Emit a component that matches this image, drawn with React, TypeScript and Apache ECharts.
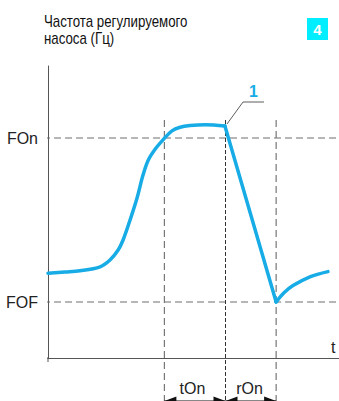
import React, { useEffect, useRef } from "react";
import * as echarts from "echarts";

// time (arbitrary units 0..100), frequency (arbitrary units 0..73)
const riseCurve: [number, number][] = [
  [0, 21.2], [5.8, 21.5], [11, 21.8], [17.9, 22.8], [21.3, 24.5], [24.1, 27], [25.8, 29.5],
  [28.2, 34.5], [30.6, 40], [32.6, 45.6], [34.4, 49.4], [36.8, 52.2], [39.6, 54.6],
  [42.6, 56.8], [45.4, 57.7], [48.8, 58.1], [54, 58.3], [60.8, 58],
];
const dropLine: [number, number][] = [[60.8, 58], [78.4, 14]];
const recoveryCurve: [number, number][] = [
  [78.4, 14], [81.1, 16.3], [84.2, 18.1], [90, 20.3], [96.2, 21.6],
];
const FON = 55;
const FOF = 14;
const T_START = 40;
const T_PEAK = 61;
const T_END = 78.4;
const yLabels: Record<number, string> = { 14: "FOF", 55: "FOn" };

const BLUE = "#17ace6";
const FONT = "'Liberation Sans', Arial, sans-serif";

export default function App() {
  const ref = useRef<HTMLDivElement>(null);
  useEffect(() => {
    if (!ref.current) return;
    const chart = echarts.init(ref.current, null, { renderer: "svg" });
    const dashed = (data: [number, number][], color: string, type: any, width = 1.2) => ({
      type: "line",
      data,
      symbol: "none",
      clip: false,
      silent: true,
      z: 1,
      lineStyle: { color, width, type },
    });
    const arrowL = "path://M0,5 L12,0 L12,10 Z";
    const arrowR = "path://M12,5 L0,0 L0,10 Z";
    const arrowY = -10.75;
    const arrowSeries = (a: number, b: number) => ({
      type: "line",
      clip: false,
      silent: true,
      lineStyle: { color: "#111", width: 1.2 },
      itemStyle: { color: "#111" },
      symbolSize: [12, 9],
      data: [
        { value: [a, arrowY], symbol: arrowL, symbolOffset: [6, 0] },
        { value: [b, arrowY], symbol: arrowR, symbolOffset: [-6, 0] },
      ],
    });
    chart.setOption({
      animation: false,
      grid: { left: 48, right: 0, top: 66, bottom: 43 },
      xAxis: {
        type: "value",
        min: 0,
        max: 100,
        axisLine: { show: true, onZero: false, lineStyle: { color: "#555", width: 1 } },
        axisTick: { show: false },
        axisLabel: { show: false },
        splitLine: { show: false },
      },
      yAxis: {
        type: "value",
        min: 0,
        max: 73,
        axisLine: { show: true, lineStyle: { color: "#555", width: 1 } },
        axisTick: { show: false },
        splitLine: { show: false },
        axisLabel: {
          customValues: [FOF, FON],
          formatter: (v: number) => yLabels[v] || "",
          margin: 10,
          color: "#222",
          fontSize: 16,
          fontFamily: FONT,
        },
      },
      series: [
        dashed([[-1.7, FON], [100, FON]], "#6e6e6e", [7, 4]),
        dashed([[-1.7, FOF], [100, FOF]], "#6e6e6e", [7, 4]),
        dashed([[T_START, 59.5], [T_START, -10.75]], "#777", [7, 4]),
        dashed([[T_PEAK, 59.5], [T_PEAK, -10.75]], "#333", [4, 2], 1),
        dashed([[T_END, 59.5], [T_END, -10.75]], "#777", [7, 4]),
        dashed([[-1.7, 0], [0, 0]], "#555", "solid", 1),
        dashed([[0, 0], [0, -1]], "#555", "solid", 1),
        arrowSeries(T_START, T_PEAK),
        arrowSeries(T_PEAK, T_END),
        {
          type: "line",
          data: riseCurve,
          smooth: 0.35,
          symbol: "none",
          z: 5,
          lineStyle: { color: BLUE, width: 3.5, cap: "round", join: "round" },
        },
        {
          type: "line",
          data: dropLine,
          symbol: "none",
          z: 5,
          lineStyle: { color: BLUE, width: 3.5, cap: "round", join: "round" },
        },
        {
          type: "line",
          data: recoveryCurve,
          smooth: 0.35,
          symbol: "none",
          z: 5,
          lineStyle: { color: BLUE, width: 3.5, cap: "round", join: "round" },
        },
      ],
      graphic: [
        {
          type: "text",
          x: 44,
          y: 13,
          scaleX: 0.83,
          style: {
            text: "Частота регулируемого\nнасоса (Гц)",
            fill: "#111",
            font: `16px ${FONT}`,
            lineHeight: 17,
            verticalAlign: "top",
          },
        },
        { type: "rect", shape: { x: 307, y: 18, width: 21, height: 22 }, style: { fill: "#00eeff" } },
        {
          type: "text",
          x: 317.5,
          y: 29,
          style: { text: "4", fill: "#fff", font: `bold 15px ${FONT}`, align: "center", verticalAlign: "middle" },
        },
        {
          type: "polyline",
          shape: { points: [[227, 124], [243, 102], [264, 102]] },
          style: { stroke: "#333", lineWidth: 0.8, fill: "none" },
          z: 10,
        },
        {
          type: "text",
          x: 253.5,
          y: 91.5,
          style: { text: "1", fill: BLUE, font: `bold 16px ${FONT}`, align: "center", verticalAlign: "middle" },
        },
        {
          type: "text",
          x: 331,
          y: 347,
          style: { text: "t", fill: "#222", font: `16px ${FONT}`, align: "left", verticalAlign: "middle" },
        },
        {
          type: "text",
          x: 192.5,
          y: 388,
          style: { text: "tOn", fill: "#222", font: `16px ${FONT}`, align: "center", verticalAlign: "middle" },
        },
        {
          type: "text",
          x: 249.5,
          y: 388,
          style: { text: "rOn", fill: "#222", font: `16px ${FONT}`, align: "center", verticalAlign: "middle" },
        },
      ],
    });
    return () => chart.dispose();
  }, []);
  return <div ref={ref} style={{ width: 339, height: 401, position: "absolute", left: 0, top: 0 }} />;
}
